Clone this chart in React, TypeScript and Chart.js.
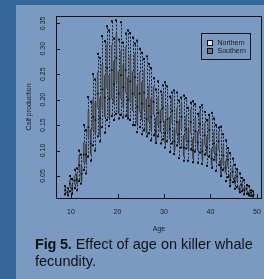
import React, { useEffect, useRef } from "react";
import { Chart, registerables } from "chart.js";

Chart.register(...registerables);

const ages = [9, 10, 11, 12, 13, 14, 15, 16, 17, 18, 19, 20, 21, 22, 23, 24, 25, 26, 27, 28, 29, 30, 31, 32, 33, 34, 35, 36, 37, 38, 39, 40, 41, 42, 43, 44, 45, 46, 47, 48, 49];
const xTickValues = [10, 20, 30, 40, 50];
const yTickValues = [0.05, 0.1, 0.15, 0.2, 0.25, 0.3, 0.35];
const seriesNames = ["Northern", "Southern"];
const legendFill = ["#e6e6e6", "#777777"];
const boxFill = ["#4e4e4e", "#3c3c3c"];

const northernLow = [0.014, 0.020, 0.026, 0.040, 0.062, 0.088, 0.110, 0.128, 0.146, 0.160, 0.168, 0.172, 0.170, 0.168, 0.160, 0.150, 0.146, 0.140, 0.134, 0.130, 0.128, 0.122, 0.118, 0.114, 0.110, 0.106, 0.104, 0.102, 0.098, 0.096, 0.092, 0.088, 0.082, 0.072, 0.062, 0.048, 0.038, 0.028, 0.020, 0.015, 0.011];
const northernQ1 = [0.018, 0.029, 0.033, 0.060, 0.076, 0.126, 0.140, 0.184, 0.184, 0.222, 0.202, 0.234, 0.202, 0.214, 0.198, 0.206, 0.176, 0.180, 0.156, 0.170, 0.148, 0.158, 0.136, 0.154, 0.132, 0.142, 0.120, 0.134, 0.118, 0.132, 0.110, 0.120, 0.096, 0.100, 0.074, 0.068, 0.046, 0.040, 0.025, 0.020, 0.014];
const northernMed = [0.022, 0.035, 0.041, 0.071, 0.092, 0.146, 0.166, 0.212, 0.220, 0.262, 0.258, 0.282, 0.248, 0.258, 0.236, 0.244, 0.212, 0.214, 0.188, 0.196, 0.174, 0.184, 0.162, 0.178, 0.156, 0.166, 0.142, 0.156, 0.138, 0.152, 0.130, 0.140, 0.114, 0.118, 0.090, 0.082, 0.058, 0.049, 0.032, 0.025, 0.017];
const northernQ3 = [0.026, 0.043, 0.051, 0.089, 0.116, 0.178, 0.202, 0.254, 0.270, 0.310, 0.308, 0.330, 0.296, 0.304, 0.286, 0.290, 0.254, 0.258, 0.228, 0.226, 0.204, 0.212, 0.190, 0.206, 0.184, 0.192, 0.168, 0.182, 0.164, 0.178, 0.154, 0.164, 0.138, 0.138, 0.110, 0.098, 0.070, 0.058, 0.038, 0.029, 0.020];
const northernHigh = [0.030, 0.050, 0.062, 0.100, 0.150, 0.205, 0.250, 0.290, 0.325, 0.344, 0.354, 0.356, 0.352, 0.330, 0.331, 0.310, 0.300, 0.280, 0.270, 0.242, 0.236, 0.228, 0.226, 0.214, 0.214, 0.204, 0.203, 0.194, 0.191, 0.185, 0.176, 0.170, 0.163, 0.145, 0.132, 0.105, 0.084, 0.063, 0.046, 0.032, 0.022];

const southernLow = [0.012, 0.015, 0.022, 0.035, 0.055, 0.080, 0.100, 0.118, 0.135, 0.148, 0.160, 0.163, 0.165, 0.163, 0.150, 0.136, 0.132, 0.128, 0.120, 0.115, 0.114, 0.106, 0.097, 0.093, 0.085, 0.080, 0.080, 0.077, 0.076, 0.074, 0.070, 0.066, 0.060, 0.050, 0.040, 0.030, 0.025, 0.018, 0.014, 0.012, 0.010];
const southernQ1 = [0.015, 0.019, 0.033, 0.042, 0.076, 0.092, 0.134, 0.130, 0.166, 0.164, 0.192, 0.172, 0.186, 0.164, 0.178, 0.152, 0.160, 0.134, 0.140, 0.118, 0.136, 0.114, 0.122, 0.100, 0.114, 0.088, 0.102, 0.084, 0.100, 0.082, 0.092, 0.070, 0.078, 0.054, 0.056, 0.034, 0.033, 0.019, 0.019, 0.013, 0.012];
const southernMed = [0.018, 0.025, 0.043, 0.054, 0.092, 0.114, 0.160, 0.164, 0.204, 0.202, 0.230, 0.212, 0.224, 0.200, 0.212, 0.186, 0.192, 0.162, 0.166, 0.138, 0.156, 0.134, 0.142, 0.118, 0.132, 0.106, 0.118, 0.100, 0.116, 0.098, 0.106, 0.084, 0.092, 0.066, 0.066, 0.042, 0.039, 0.024, 0.022, 0.015, 0.013];
const southernQ3 = [0.022, 0.033, 0.055, 0.070, 0.114, 0.142, 0.194, 0.204, 0.248, 0.248, 0.276, 0.256, 0.268, 0.244, 0.256, 0.228, 0.234, 0.202, 0.202, 0.164, 0.180, 0.158, 0.166, 0.142, 0.158, 0.130, 0.142, 0.124, 0.138, 0.120, 0.128, 0.104, 0.110, 0.082, 0.080, 0.054, 0.049, 0.031, 0.028, 0.019, 0.015];
const southernHigh = [0.026, 0.044, 0.065, 0.092, 0.140, 0.196, 0.240, 0.282, 0.315, 0.336, 0.320, 0.318, 0.312, 0.336, 0.322, 0.316, 0.292, 0.285, 0.262, 0.220, 0.216, 0.234, 0.206, 0.218, 0.198, 0.208, 0.184, 0.197, 0.172, 0.189, 0.160, 0.174, 0.150, 0.147, 0.120, 0.095, 0.072, 0.055, 0.042, 0.030, 0.020];

const stats = [
  { low: northernLow, q1: northernQ1, med: northernMed, q3: northernQ3, high: northernHigh },
  { low: southernLow, q1: southernQ1, med: southernMed, q3: southernQ3, high: southernHigh },
];

const FONT = "'Liberation Sans', Arial, sans-serif";
const INK = "#1c1c1c";

export default function App() {
  const ref = useRef<HTMLCanvasElement>(null);

  useEffect(() => {
    if (!ref.current) return;

    const whiskerPlugin = {
      id: "whiskers",
      beforeDatasetsDraw(chart: any) {
        const ctx = chart.ctx;
        const y = chart.scales.y;
        ctx.save();
        ctx.lineWidth = 1;
        ctx.setLineDash([2, 1.5]);
        ctx.strokeStyle = "rgba(15,15,25,0.85)";
        stats.forEach((s, d) => {
          const meta = chart.getDatasetMeta(d);
          meta.data.forEach((el: any, i: number) => {
            const x = Math.round(el.x) + 0.5;
            ctx.beginPath();
            ctx.moveTo(x, y.getPixelForValue(s.q3[i]));
            ctx.lineTo(x, y.getPixelForValue(s.high[i]));
            ctx.moveTo(x, y.getPixelForValue(s.q1[i]));
            ctx.lineTo(x, y.getPixelForValue(s.low[i]));
            ctx.stroke();
          });
        });
        ctx.restore();
      },
      afterDatasetsDraw(chart: any) {
        const ctx = chart.ctx;
        const y = chart.scales.y;
        ctx.save();
        ctx.fillStyle = "#0a0a0a";
        stats.forEach((s, d) => {
          const meta = chart.getDatasetMeta(d);
          meta.data.forEach((el: any, i: number) => {
            const x = Math.round(el.x);
            const w = el.width;
            ctx.fillRect(el.x - w / 2, y.getPixelForValue(s.med[i]) - 0.75, w, 1.5);
            ctx.fillRect(x - 1, y.getPixelForValue(s.high[i]) - 1, 2, 2);
            ctx.fillRect(x - 1, y.getPixelForValue(s.low[i]) - 1, 2, 2);
          });
        });
        ctx.restore();
      },
    };

    const framePlugin = {
      id: "frameLegend",
      afterDraw(chart: any) {
        const ctx = chart.ctx;
        const a = chart.chartArea;
        const xs = chart.scales.x;
        const ys = chart.scales.y;
        ctx.save();
        ctx.strokeStyle = "#111";
        ctx.lineWidth = 1;
        ctx.strokeRect(Math.round(a.left) + 0.5, Math.round(a.top) + 0.5, Math.round(a.right - a.left) - 1, Math.round(a.bottom - a.top));
        ctx.beginPath();
        xs.ticks.forEach((t: any) => {
          const px = Math.round(xs.getPixelForValue(t.value)) + 0.5;
          ctx.moveTo(px, a.bottom);
          ctx.lineTo(px, a.bottom - 4);
        });
        ys.ticks.forEach((t: any) => {
          const py = Math.round(ys.getPixelForValue(t.value)) + 0.5;
          ctx.moveTo(a.left, py);
          ctx.lineTo(a.left + 4, py);
        });
        ctx.stroke();

        // legend
        const lx = a.right - 61;
        const ly = a.top + 17;
        ctx.strokeRect(Math.round(lx) + 0.5, Math.round(ly) + 0.5, 49, 26);
        ctx.font = "7px " + FONT;
        ctx.textBaseline = "middle";
        ctx.textAlign = "left";
        seriesNames.forEach((name, k) => {
          const cy = ly + 9.5 + k * 8.5;
          ctx.fillStyle = legendFill[k];
          ctx.fillRect(Math.round(lx) + 7, Math.round(cy) - 2, 4, 4);
          ctx.strokeRect(Math.round(lx) + 6.5, Math.round(cy) - 2.5, 5, 5);
          ctx.fillStyle = INK;
          ctx.fillText(name, lx + 16.5, cy + 0.5);
        });
        ctx.restore();
      },
    };

    const chart = new Chart(ref.current, {
      type: "bar",
      data: {
        datasets: seriesNames.map((name, d) => ({
          label: name,
          data: ages.map((a, i) => ({ x: a, y: [stats[d].q1[i], stats[d].q3[i]] })),
          backgroundColor: boxFill[d],
          borderWidth: 0,
          categoryPercentage: 1,
          barPercentage: 0.75,
        })),
      },
      options: {
        responsive: false,
        animation: false,
        devicePixelRatio: 1,
        layout: { padding: { left: 16, top: 16, right: 2, bottom: 41 } },
        plugins: { legend: { display: false }, tooltip: { enabled: false } },
        scales: {
          x: {
            type: "linear",
            min: 6.77,
            max: 51.08,
            offset: false,
            grid: { display: false, drawTicks: false },
            border: { display: false },
            afterBuildTicks: (s: any) => {
              s.ticks = xTickValues.map((v) => ({ value: v }));
            },
            afterFit: (s: any) => {
              s.height = 40;
              s.paddingLeft = 0;
              s.paddingRight = 0;
            },
            ticks: {
              padding: 9.5,
              color: INK,
              font: { family: FONT, size: 7 },
              maxRotation: 0,
              autoSkip: false,
            },
            title: {
              display: true,
              text: "Age",
              color: INK,
              font: { family: FONT, size: 7 },
              padding: { top: 0, bottom: 5 },
            },
          },
          y: {
            type: "linear",
            min: 0.0067,
            max: 0.3644,
            beginAtZero: false,
            grid: { display: false, drawTicks: false },
            border: { display: false },
            afterBuildTicks: (s: any) => {
              s.ticks = yTickValues.map((v) => ({ value: v }));
            },
            afterFit: (s: any) => {
              s.width = 40;
              s.paddingTop = 0;
              s.paddingBottom = 0;
            },
            ticks: {
              padding: 6,
              color: INK,
              font: { family: FONT, size: 7 },
              minRotation: 90,
              maxRotation: 90,
              crossAlign: "center",
              autoSkip: false,
              callback: (v: any) => Number(v).toFixed(2),
            },
            title: {
              display: true,
              text: "Calf production",
              color: INK,
              font: { family: FONT, size: 7 },
              padding: { top: 9, bottom: 0 },
            },
          },
        },
      },
      plugins: [whiskerPlugin, framePlugin],
    } as any);

    return () => chart.destroy();
  }, []);

  return (
    <div style={{ position: "fixed", left: 0, top: 0, width: 264, height: 279, background: "#33669a", overflow: "hidden" }}>
      <div style={{ position: "absolute", left: 16, top: 5, width: 248, height: 274, background: "#7a9ac2" }} />
      <canvas ref={ref} width={264} height={279} style={{ position: "absolute", left: 0, top: 0, width: 264, height: 279 }} />
      <div
        style={{
          position: "absolute",
          left: 35,
          top: 236,
          width: 228,
          fontFamily: FONT,
          fontSize: 14.5,
          lineHeight: "17px",
          color: "#121212",
          whiteSpace: "pre",
        }}
      >
        <span style={{ fontWeight: 900, letterSpacing: "-0.2px" }}>Fig 5.</span>
        {" Effect of age on killer whale\nfecundity."}
      </div>
    </div>
  );
}
